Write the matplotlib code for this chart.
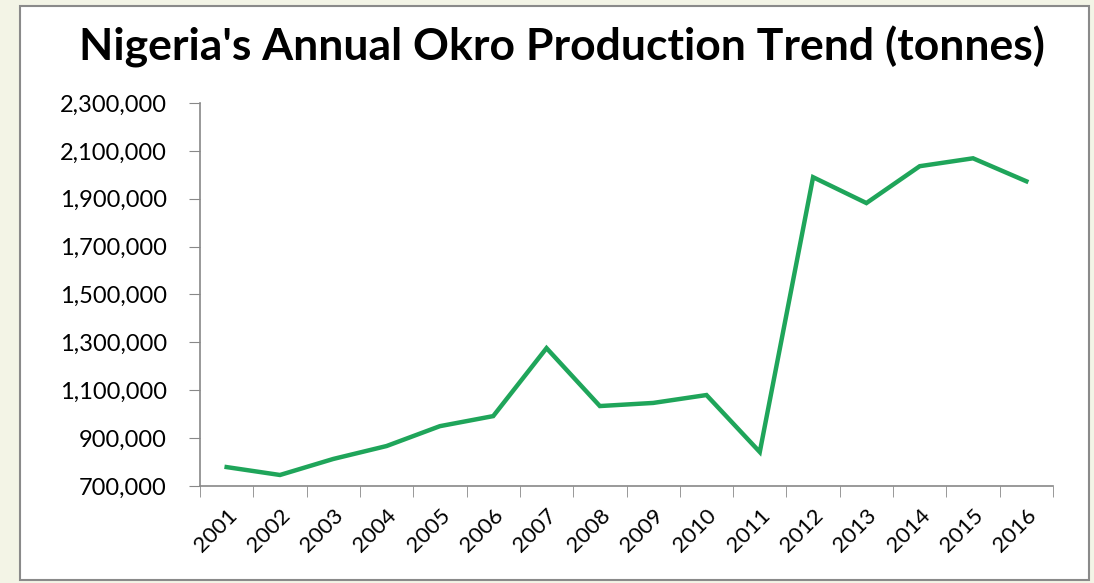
import matplotlib
matplotlib.use('Agg')
import matplotlib.pyplot as plt
from matplotlib.patches import Rectangle
from matplotlib.ticker import FuncFormatter

# 数据
years = ['2001', '2002', '2003', '2004', '2005', '2006', '2007', '2008',
         '2009', '2010', '2011', '2012', '2013', '2014', '2015', '2016']
production = [779000, 746000, 813000, 867000, 950000, 992000, 1276000, 1034000,
              1047000, 1080000, 842000, 1990000, 1882000, 2036000, 2069000, 1973000]
y_ticks = [700000, 900000, 1100000, 1300000, 1500000, 1700000, 1900000, 2100000, 2300000]

plt.rcParams['font.family'] = ['Lato', 'DejaVu Sans']

fig = plt.figure(figsize=(10.94, 5.83), dpi=100)
fig.patch.set_facecolor('#f3f4e6')

# 背景轴：白色图表区域和灰色边框
bg = fig.add_axes([0, 0, 1, 1], zorder=0)
bg.axis('off')
bg.add_patch(Rectangle((20 / 1094, 1 - 580 / 583), 1069 / 1094, 574 / 583,
                       transform=fig.transFigure, facecolor='white',
                       edgecolor='#8a8a8a', linewidth=1.5))

ax = fig.add_axes([200 / 1094, 1 - 486 / 583, 853 / 1094, 383 / 583], zorder=2)
ax.set_facecolor('none')

x = [i + 0.5 for i in range(len(years))]
ax.plot(x, production, color='#1fa55a', linewidth=3.2, solid_joinstyle='miter')

ax.set_xlim(0, len(years))
ax.set_ylim(700000, 2300000)
ax.set_yticks(y_ticks)
ax.yaxis.set_major_formatter(FuncFormatter(lambda v, p: f'{int(v):,}'))

ax.set_xticks(x)
ax.set_xticklabels(years, rotation=45, ha='right', rotation_mode='anchor')
ax.set_xticks(range(len(years) + 1), minor=True)
ax.tick_params(axis='x', which='major', length=0, pad=14, labelsize=16)
ax.tick_params(axis='x', which='minor', length=8, color='#888888', direction='out')
ax.tick_params(axis='y', length=8, color='#888888', labelsize=17, pad=16)

for s in ['top', 'right']:
    ax.spines[s].set_visible(False)
for s in ['left', 'bottom']:
    ax.spines[s].set_color('#888888')
    ax.spines[s].set_linewidth(1.2)

fig.text(0.514, 1 - 47 / 583, "Nigeria's Annual Okro Production Trend (tonnes)",
         ha='center', va='center', fontsize=32, fontweight='bold')

plt.savefig('out.png', dpi=100)
plt.close()
